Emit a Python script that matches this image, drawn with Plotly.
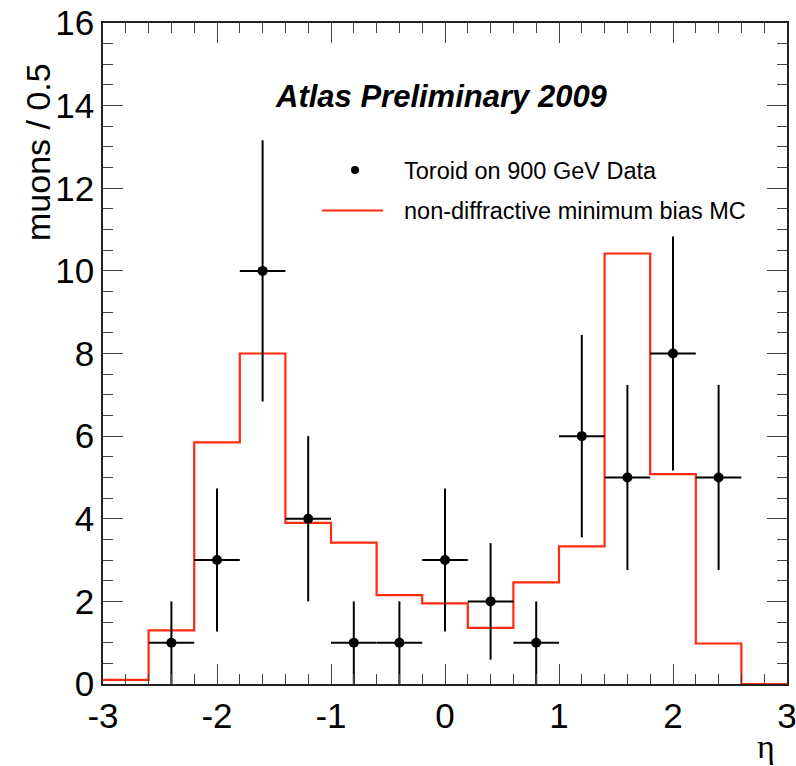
import plotly.graph_objects as go

# ---- data ----
bin_edges = [-3.0, -2.6, -2.2, -1.8, -1.4, -1.0, -0.6, -0.2, 0.2, 0.6, 1.0, 1.4, 1.8, 2.2, 2.6, 3.0]
mc_values = [0.1, 1.3, 5.85, 8.0, 3.9, 3.42, 2.15, 1.95, 1.36, 2.46, 3.33, 10.42, 5.08, 0.98, 0.0]

data_eta = [-2.4, -2.0, -1.6, -1.2, -0.8, -0.4, 0.0, 0.4, 0.8, 1.2, 1.6, 2.0, 2.4]
data_counts = [1, 3, 10, 4, 1, 1, 3, 2, 1, 6, 5, 8, 5]
data_err = [1.0, 1.73, 3.16, 2.0, 1.0, 1.0, 1.73, 1.41, 1.0, 2.45, 2.24, 2.83, 2.24]
data_xerr = [0.2] * len(data_eta)

x_ticks = [-3, -2, -1, 0, 1, 2, 3]
y_ticks = [0, 2, 4, 6, 8, 10, 12, 14, 16]

RED = "#ff2a10"

fig = go.Figure()

fig.add_trace(go.Scatter(
    x=bin_edges, y=mc_values + [mc_values[-1]],
    mode="lines", line=dict(color=RED, width=2.2, shape="hv"),
    showlegend=False, hoverinfo="skip"))

fig.add_trace(go.Scatter(
    x=data_eta, y=data_counts, mode="markers",
    marker=dict(color="black", size=10),
    error_y=dict(type="data", array=data_err, color="black", thickness=2, width=0),
    error_x=dict(type="data", array=data_xerr, color="black", thickness=2, width=0),
    showlegend=False))

# plot area in pixels
L, R, T, B = 103, 787, 23, 684
W, H = 796, 766
def px(xp):
    return (xp - L) / (R - L)
def py(yp):
    return (B - yp) / (B - T)

axis_common = dict(
    showline=True, linecolor="#222", linewidth=1.5, mirror="allticks",
    ticks="inside", ticklen=20, tickwidth=1.2, tickcolor="#444",
    showgrid=False, zeroline=False, automargin=False, ticklabeloverflow="allow",
    tickfont=dict(family="Liberation Sans, Arial", size=35, color="black"),
)

fig.update_xaxes(range=[-3, 3], tickvals=x_ticks, ticktext=[str(v) for v in x_ticks],
                 minor=dict(ticks="inside", dtick=0.2, tick0=-3, ticklen=10, tickwidth=1.2, tickcolor="#444"),
                 **axis_common)
fig.update_yaxes(range=[0, 16], tickvals=y_ticks, ticktext=[str(v) for v in y_ticks],
                 minor=dict(ticks="inside", dtick=0.5, tick0=0, ticklen=10, tickwidth=1.2, tickcolor="#444"),
                 **axis_common)

annotations = [
    dict(text="muons / 0.5", x=px(38), y=py(152), xref="paper", yref="paper",
         xanchor="center", yanchor="middle", textangle=-90, showarrow=False,
         font=dict(family="Liberation Sans, Arial", size=34, color="black")),
    dict(text="η", x=px(766), y=py(746), xref="paper", yref="paper",
         xanchor="center", yanchor="middle", showarrow=False,
         font=dict(family="Liberation Serif, Times New Roman", size=34, color="black")),
    dict(text="<b><i>Atlas Preliminary 2009</i></b>", x=px(441), y=py(97), xref="paper", yref="paper",
         xanchor="center", yanchor="middle", showarrow=False,
         font=dict(family="Liberation Sans, Arial", size=31, color="black")),
    dict(text="Toroid on 900 GeV Data", x=px(402), y=py(171), xref="paper", yref="paper",
         xanchor="left", yanchor="middle", showarrow=False,
         font=dict(family="Liberation Sans, Arial", size=23.5, color="black")),
    dict(text="non-diffractive minimum bias MC", x=px(402), y=py(211), xref="paper", yref="paper",
         xanchor="left", yanchor="middle", showarrow=False,
         font=dict(family="Liberation Sans, Arial", size=23.5, color="black")),
]

shapes = [
    dict(type="circle", xref="paper", yref="paper",
         x0=px(351), x1=px(359), y0=py(174), y1=py(166),
         fillcolor="black", line=dict(color="black", width=0)),
    dict(type="line", xref="paper", yref="paper",
         x0=px(322), x1=px(383), y0=py(210.5), y1=py(210.5),
         line=dict(color=RED, width=2.2)),
]

fig.update_layout(
    width=W, height=H,
    margin=dict(l=L, r=W - R, t=T, b=H - B),
    plot_bgcolor="white", paper_bgcolor="white",
    annotations=annotations, shapes=shapes,
    showlegend=False,
)

fig.write_html("out.html")
